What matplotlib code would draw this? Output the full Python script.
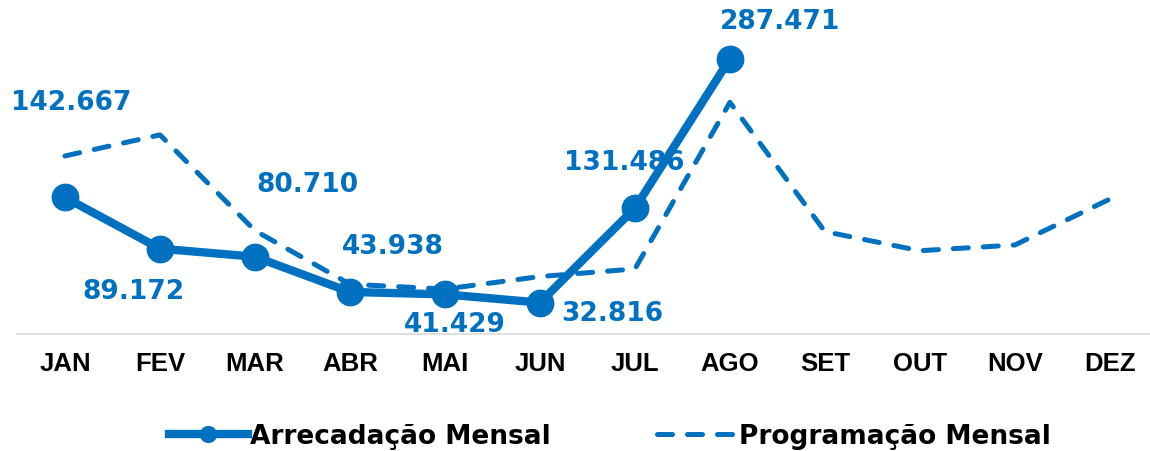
import numpy as np
import matplotlib.pyplot as plt

plt.rcParams['font.family'] = ['Liberation Sans', 'DejaVu Sans']

meses = ['JAN', 'FEV', 'MAR', 'ABR', 'MAI', 'JUN', 'JUL', 'AGO', 'SET', 'OUT', 'NOV', 'DEZ']
arrecadacao = [142.667, 89.172, 80.710, 43.938, 41.429, 32.816, 131.486, 287.471]
programacao = [186, 208, 108, 52, 47, 60, 68, 242, 107, 87, 93, 141]
rotulos = ['142.667', '89.172', '80.710', '43.938', '41.429', '32.816', '131.486', '287.471']
# deslocamento dos rotulos em pixels (dx, dy)
desloc = [(6, 95), (-27, -42), (52, 73), (43, 46), (10, -30), (72, -10), (-11, 46), (50, 38)]

azul = '#0070C0'

fig = plt.figure(figsize=(11.5, 4.52), dpi=100)
ax = fig.add_axes([0.0148, 0.2588, 0.985, 0.699])

x = np.arange(len(meses))
ax.plot(x, programacao, color=azul, lw=3.6, ls=(0, (3, 3)),
        dash_capstyle='round', label='Programação Mensal', zorder=2)
ax.plot(x[:len(arrecadacao)], arrecadacao, color=azul, lw=6, marker='o',
        markersize=19, label='Arrecadação Mensal', zorder=3)

for i, (v, t) in enumerate(zip(arrecadacao, rotulos)):
    ax.annotate(t, (x[i], v), xytext=desloc[i], textcoords='offset pixels',
                ha='center', va='center', fontsize=19, fontweight='bold', color=azul,
                family='DejaVu Sans')

ax.set_xlim(-0.505, 11.42)
ax.set_ylim(0, 330)
ax.set_xticks(x)
ax.set_xticklabels(meses, fontsize=18.5, fontweight='bold')
ax.tick_params(axis='x', length=0, pad=12)
ax.set_yticks([])
for s in ['top', 'right', 'left']:
    ax.spines[s].set_visible(False)
ax.spines['bottom'].set_color('#d9d9d9')
ax.spines['bottom'].set_linewidth(1.2)

h, l = ax.get_legend_handles_labels()
fig.legend(h[::-1], l[::-1], loc='center', bbox_to_anchor=(0.53, 0.033), ncol=2,
           frameon=False, handlelength=3.0, columnspacing=4.0, handletextpad=0.1,
           markerscale=0.6, prop={'size': 19, 'weight': 'bold', 'family': 'DejaVu Sans'})

fig.savefig('out.png', dpi=100)
